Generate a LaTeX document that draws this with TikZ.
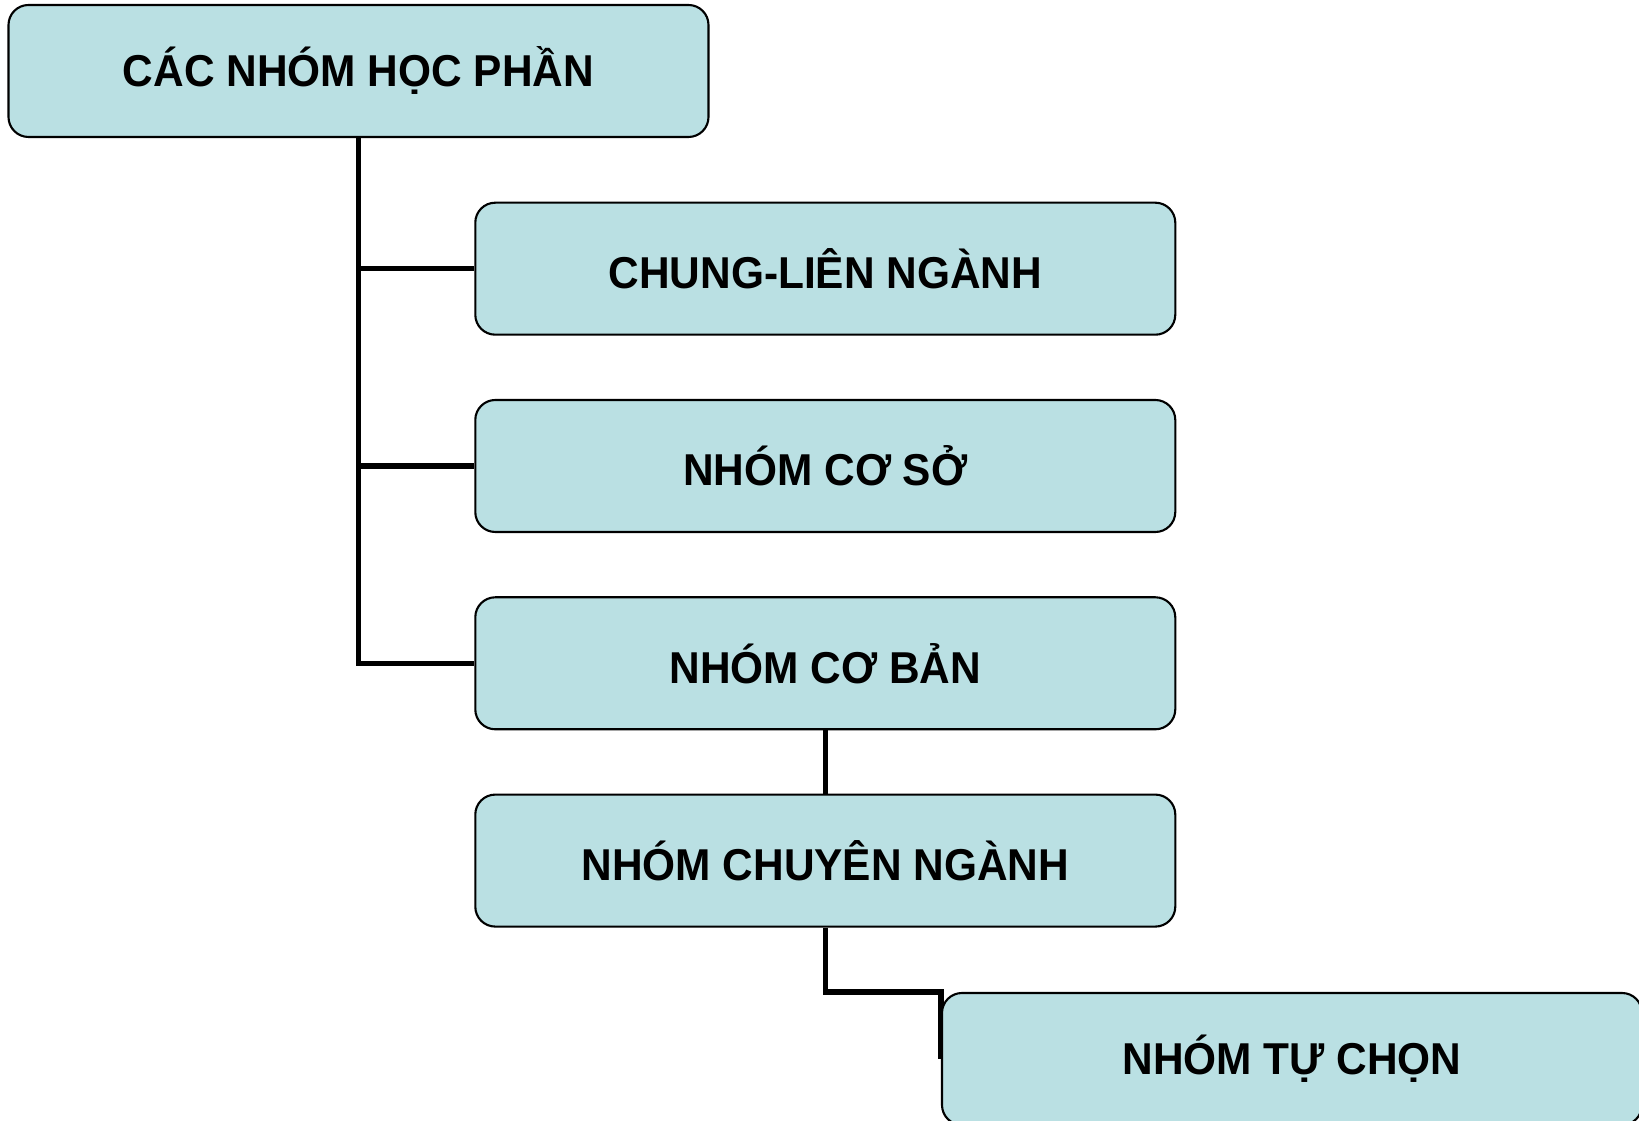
\documentclass[tikz,border=0pt]{standalone}
\usepackage{fontspec}
\setmainfont{Liberation Sans}[FakeStretch=0.95]
\usetikzlibrary{backgrounds}
\definecolor{boxfill}{RGB}{186,224,227}
\tikzset{every picture/.style={line width=0.6pt}}
\tikzset{
    groupbox/.style={draw, fill=boxfill, rounded corners=0.2cm,
        minimum width=7cm, minimum height=1.32cm,
        font=\fontsize{12.7}{15}\selectfont\bfseries},
    link/.style={line width=1.5pt}
}

\begin{document}
\begin{tikzpicture}
    \useasboundingbox (0, 0) rectangle (16.39, -11.21);
    \clip (0, 0) rectangle (16.39, -11.21);

    % khối gốc
    \node[groupbox] (root) at (3.585, -0.71) {CÁC NHÓM HỌC PHẦN};

    % các nhóm
    \node[groupbox] (chung)  at (8.253, -2.687) {CHUNG-LIÊN NGÀNH};
    \node[groupbox] (coso)   at (8.253, -4.660) {NHÓM CƠ SỞ};
    \node[groupbox] (coban)  at (8.253, -6.633) {NHÓM CƠ BẢN};
    \node[groupbox] (chuyen) at (8.253, -8.606) {NHÓM CHUYÊN NGÀNH};
    \node[groupbox] (tuchon) at (12.92, -10.59) {NHÓM TỰ CHỌN};

    % đường nối
    \begin{scope}[on background layer]
        \draw[link] (root.south) |- (coban.west);
        \draw[link] (root.south |- chung.west) -- (chung.west);
        \draw[link] (root.south |- coso.west) -- (coso.west);
        \draw[link] (coban) -- (chuyen);
        \draw[link] (chuyen.south) |- (tuchon.north west) -- (tuchon.west);
    \end{scope}
\end{tikzpicture}
\end{document}
